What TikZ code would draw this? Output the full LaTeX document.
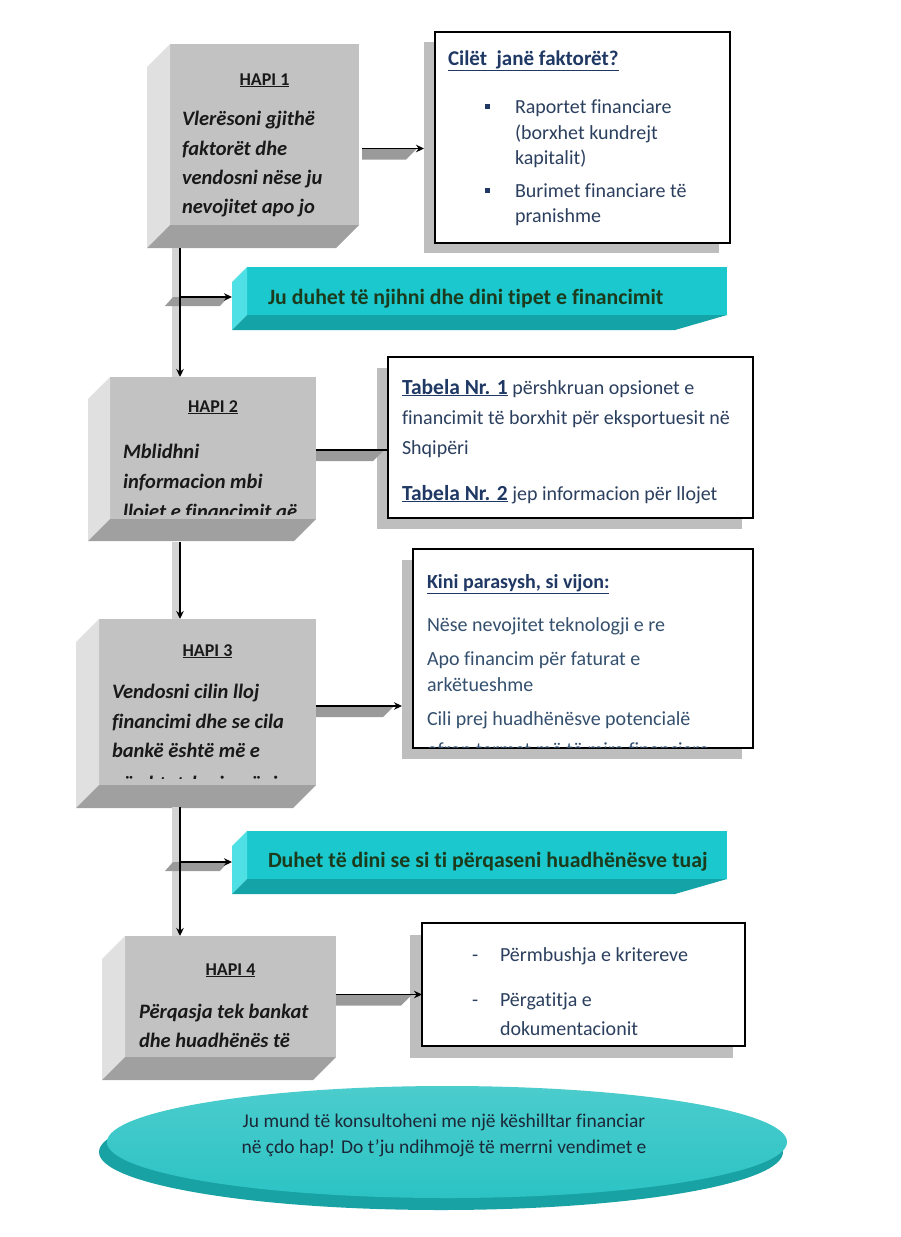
\documentclass[tikz,border=0pt]{standalone}
\usepackage{fontspec}
\setmainfont{Carlito}[Ligatures=NoCommon]
\usetikzlibrary{shapes.geometric,arrows.meta,calc}
\definecolor{navy}{HTML}{1F3864}
\definecolor{bodyblue}{HTML}{2B3F5E}
\definecolor{lightblue}{HTML}{34506E}
\definecolor{frontgray}{HTML}{C2C2C2}
\definecolor{sidegray}{HTML}{E0E0E0}
\definecolor{botgray}{HTML}{A0A0A0}
\definecolor{shadowgray}{HTML}{BEBEBE}
\definecolor{stripgray}{HTML}{D3D3D3}
\definecolor{connshade}{HTML}{9A9A9A}
\definecolor{tealfront}{HTML}{1BC8CD}
\definecolor{tealside}{HTML}{4FE0E6}
\definecolor{tealbot}{HTML}{14A3A7}
\definecolor{ovaltop}{HTML}{2CC3C4}
\definecolor{ovalrim}{HTML}{19A2A4}
\definecolor{darkgreen}{HTML}{1C3A1C}
\definecolor{ovaltext}{HTML}{1B2838}
\newcommand\fz[2]{\fontsize{#1}{#2}\selectfont}
\newcommand\bevelbox[2]{%
  \fill[sidegray] (#1.north west) -- ++(-#2,#2) -- ($(#1.south west)+(-#2,#2)$) -- (#1.south west) -- cycle;
  \fill[botgray] (#1.south west) -- (#1.south east) -- ++(-#2,#2) -- ($(#1.south west)+(-#2,#2)$) -- cycle;}
\newcommand\bannerfaces[1]{%
  \fill[tealside] (#1.north west) -- ++(-15,15) -- ($(#1.south west)+(-15,15)$) -- (#1.south west) -- cycle;
  \fill[tealbot] (#1.south west) -- (#1.south east) -- ++(-52,15) -- ($(#1.south west)+(-15,15)$) -- cycle;}
\begin{document}
\begin{tikzpicture}[x=1pt,y=-1pt,
  front/.style={rectangle,inner sep=0pt,outer sep=0pt,fill=frontgray,anchor=north west},
  bannerfront/.style={rectangle,inner sep=0pt,outer sep=0pt,fill=tealfront,anchor=north west},
  infobox/.style={rectangle,inner sep=0pt,outer sep=0pt,draw=black,line width=1.1pt,fill=white,anchor=north west},
  infoshadow/.style={rectangle,inner sep=0pt,outer sep=0pt,fill=shadowgray,anchor=north west},
  txt/.style={inner sep=0pt,outer sep=0pt,anchor=base west},
  hapititle/.style={txt,anchor=base,font=\bfseries\fz{18}{22},text=black!90},
  hapibody/.style={txt,font=\bfseries\itshape\fz{20.5}{24},text=black!90},
  infotitle/.style={txt,font=\bfseries\fz{21}{25},text=navy},
  infobody/.style={txt,font=\fz{20}{24},text=bodyblue},
  bannertext/.style={txt,font=\bfseries\fz{21.8}{25},text=darkgreen},
  ovaltxt/.style={txt,anchor=base,font=\fz{19.5}{24},text=ovaltext},
  conn/.style={line width=1.7pt,draw=black,-{Stealth[length=8pt,width=7.5pt]}},
  plainconn/.style={line width=1.7pt,draw=black},
  connsh/.style={fill=connshade},
  strip/.style={fill=stripgray},
  bullet/.style={fill=navy}
]
\useasboundingbox (0,0) rectangle (900,1237);
\fill[white] (0,0) rectangle (900,1237);

% ---------- HAPI boxes ----------
\node[front,minimum width=189pt,minimum height=181pt] (h1) at (170,44) {};
\bevelbox{h1}{23}
\node[front,minimum width=206pt,minimum height=142pt] (h2) at (110,377) {};
\bevelbox{h2}{22}
\node[front,minimum width=217pt,minimum height=166pt] (h3) at (99,619) {};
\bevelbox{h3}{23}
\node[front,minimum width=211pt,minimum height=121pt] (h4) at (125,936) {};
\bevelbox{h4}{23}

\node[hapititle] (h1t) at ($(h1.north)+(0,41)$) {\underline{HAPI 1}};
\node[hapibody] (h1a) at (182,125) {Vlerësoni gjithë};
\node[hapibody] (h1b) at (182,155) {faktorët dhe};
\node[hapibody] (h1c) at (182,184) {vendosni nëse ju};
\node[hapibody] (h1d) at (182,213) {nevojitet apo jo};

\node[hapititle] (h2t) at ($(h2.north)+(0,35)$) {\underline{HAPI 2}};
\begin{scope}
\clip (h2.north west) rectangle (316,514);
\node[hapibody] (h2a) at (123,458) {Mblidhni};
\node[hapibody] (h2b) at (123,488) {informacion mbi};
\node[hapibody] (h2c) at (123,518) {llojet e financimit që};
\end{scope}

\node[hapititle] (h3t) at ($(h3.north)+(0,37)$) {\underline{HAPI 3}};
\begin{scope}
\clip (h3.north west) rectangle (316,778);
\node[hapibody] (h3a) at (112,698) {Vendosni cilin lloj};
\node[hapibody] (h3b) at (112,728) {financimi dhe se cila};
\node[hapibody] (h3c) at (112,757) {bankë është më e};
\node[hapibody] (h3d) at (112,790) {përshtatshmja për ju};
\end{scope}

\node[hapititle] (h4t) at ($(h4.north)+(0,39)$) {\underline{HAPI 4}};
\node[hapibody] (h4a) at (139,1018) {Përqasja tek bankat};
\node[hapibody] (h4b) at (139,1047) {dhe huadhënës të};

% ---------- info boxes ----------
\node[infoshadow,minimum width=295pt,minimum height=211pt] (s1) at (424,42) {};
\node[infobox,minimum width=295pt,minimum height=211pt] (box1) at (435,32) {};
\node[infotitle] (t1) at (448,65) {\underline{Cilët\ \ janë faktorët?}};
\fill[bullet] (485,104) rectangle ++(5,5);
\node[infobody] (t1a) at (515,113) {Raportet financiare};
\node[infobody] (t1b) at (515,139) {(borxhet kundrejt};
\node[infobody] (t1c) at (515,164) {kapitalit)};
\fill[bullet] (485,188) rectangle ++(5,5);
\node[infobody] (t1d) at (515,197) {Burimet financiare të};
\node[infobody] (t1e) at (515,222) {pranishme};

\node[infoshadow,minimum width=365pt,minimum height=161pt] (s2) at (377,368) {};
\node[infobox,minimum width=365pt,minimum height=161pt] (box2) at (388,357) {};
\node[infobody] (t2a) at (402,394) {{\bfseries\fz{21.5}{25}\color{navy}\underline{Tabela Nr. 1}} përshkruan opsionet e};
\node[infobody] (t2b) at (402,424) {financimit të borxhit për eksportuesit në};
\node[infobody] (t2c) at (402,454) {Shqipëri};
\node[infobody] (t2d) at (402,500) {{\bfseries\fz{21.5}{25}\color{navy}\underline{Tabela Nr. 2}} jep informacion për llojet};

\node[infoshadow,minimum width=340pt,minimum height=199pt] (s3) at (402,560) {};
\node[infobox,minimum width=340pt,minimum height=199pt] (box3) at (413,549) {};
\node[infotitle,font=\bfseries\fz{20}{24}] (t3) at (427,588) {\underline{Kini parasysh, si vijon:}};
\begin{scope}
\clip ([xshift=1pt,yshift=-1pt]box3.north west) rectangle ([xshift=-1pt,yshift=1pt]box3.south east);
\node[infobody,text=lightblue] (t3a) at (427,631) {Nëse nevojitet teknologji e re};
\node[infobody,text=lightblue] (t3b) at (427,665) {Apo financim për faturat e};
\node[infobody,text=lightblue] (t3c) at (427,691) {arkëtueshme};
\node[infobody,text=lightblue] (t3d) at (427,725) {Cili prej huadhënësve potencialë};
\node[infobody,text=lightblue] (t3e) at (427,756) {ofron termat më të mira financiare};
\end{scope}

\node[infoshadow,minimum width=323pt,minimum height=123pt] (s4) at (410,935) {};
\node[infobox,minimum width=323pt,minimum height=123pt] (box4) at (422,923) {};
\node[infobody] (d4a) at (472,961) {-};
\node[infobody] (t4a) at (500,961) {Përmbushja e kritereve};
\node[infobody] (d4b) at (472,1006) {-};
\node[infobody] (t4b) at (500,1006) {Përgatitja e};
\node[infobody] (t4c) at (500,1035) {dokumentacionit};

% ---------- banners ----------
\node[bannerfront,minimum width=480pt,minimum height=48pt] (b1) at (247,267) {};
\bannerfaces{b1}
\node[bannertext] (b1t) at (268,304) {Ju duhet të njihni dhe dini tipet e financimit};
\node[bannerfront,minimum width=480pt,minimum height=48pt] (b2) at (247,831) {};
\bannerfaces{b2}
\node[bannertext] (b2t) at (268,867) {Duhet të dini se si ti përqaseni huadhënësve tuaj};

% ---------- connectors ----------
\coordinate (c1) at (180,248);
\coordinate (c2) at (180,542);
\coordinate (c3) at (180,807);
\coordinate (b1in) at ($(b1.west)+(-15,6)$);
\coordinate (b2in) at ($(b2.west)+(-15,7)$);

\fill[strip] ($(c1)+(-8,0)$) rectangle ($(c1 |- h2.north)+(-1,0)$);
\fill[strip] ($(c2)+(-8,0)$) rectangle ($(c2 |- h3.north)+(-1,0)$);
\fill[strip] ($(c3)+(-8,0)$) rectangle ($(c3 |- h4.north)+(-1,0)$);
\fill[connsh] ($(c1 |- b1in)+(-7,0)$) -- ++(55,0) -- ++(-8,9) -- ++(-55,0) -- cycle;
\fill[connsh] ($(c3 |- b2in)+(-7,0)$) -- ++(55,0) -- ++(-8,9) -- ++(-55,0) -- cycle;

\draw[conn] (c1) -- (c1 |- h2.north);
\draw[conn] (c1 |- b1in) -- (b1in);
\draw[conn] (c2) -- (c2 |- h3.north);
\draw[conn] (c3) -- (c3 |- h4.north);
\draw[conn] (c3 |- b2in) -- (b2in);

\coordinate (a1) at ($(h1.east)+(3,14)$);
\coordinate (a2) at ($(h2.east)+(0,2)$);
\coordinate (a3) at ($(h3.east)+(0,4)$);
\coordinate (a4) at ($(h4.east)+(0,-2)$);
\fill[connsh] (a1) -- ++(55,0) -- ++(-11,11) -- ++(-44,0) -- cycle;
\fill[connsh] (a2) -- ++(68,0) -- ++(-11,11) -- ++(-57,0) -- cycle;
\fill[connsh] (a3) -- ++(78,0) -- ++(-11,11) -- ++(-67,0) -- cycle;
\fill[connsh] (a4) -- ++(76,0) -- ++(-11,11) -- ++(-65,0) -- cycle;
\draw[conn] (a1) -- (a1 -| s1.west);
\draw[plainconn] (a2) -- (a2 -| box2.west);
\draw[conn] (a3) -- (a3 -| s3.west);
\draw[conn] (a4) -- (a4 -| box4.west);

% ---------- advice oval ----------
\node[ellipse,fill=ovalrim,inner sep=0pt,minimum width=684pt,minimum height=116pt] (rim) at (441,1152) {};
\node[ellipse,top color=ovaltop!85!white,bottom color=ovaltop,inner sep=0pt,minimum width=680pt,minimum height=112pt] (adv) at (447,1142) {};
\node[ovaltxt] (ov1) at (444,1127) {Ju mund të konsultoheni me një këshilltar financiar};
\node[ovaltxt] (ov2) at (444,1153) {në çdo hap! Do t’ju ndihmojë të merrni vendimet e};
\end{tikzpicture}
\end{document}
